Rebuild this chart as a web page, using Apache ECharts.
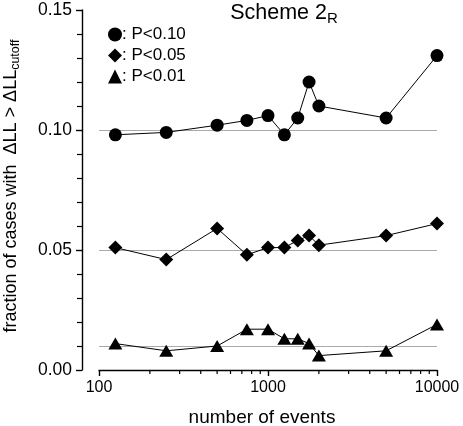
<!DOCTYPE html>
<html>
<head>
<meta charset="utf-8">
<script src="https://cdn.jsdelivr.net/npm/echarts@6/dist/echarts.min.js"></script>
<style>
html,body{margin:0;padding:0;background:#fff;}
#chart{width:463px;height:426px;}
</style>
</head>
<body>
<div id="chart"></div>
<script>
var events = [125, 250, 500, 750, 1000, 1250, 1500, 1750, 2000, 5000, 10000];
var p10 = [0.098, 0.099, 0.102, 0.104, 0.106, 0.098, 0.105, 0.120, 0.110, 0.105, 0.131];
var p05 = [0.051, 0.046, 0.059, 0.048, 0.051, 0.051, 0.054, 0.056, 0.052, 0.056, 0.061];
var p01 = [0.011, 0.008, 0.010, 0.017, 0.017, 0.013, 0.013, 0.011, 0.006, 0.008, 0.019];
var refLevels = [0.10, 0.05, 0.01];
var seriesNames = ['P<0.10', 'P<0.05', 'P<0.01'];
var symbols = ['circle', 'diamond', 'triangle'];
var xMinorTicks = [200, 300, 400, 500, 600, 700, 800, 900, 2000, 3000, 4000, 5000, 6000, 7000, 8000, 9000];

var FONT = '"Liberation Sans", Arial, Helvetica, sans-serif';

function pairs(ys) {
  return events.map(function (x, i) { return [x, ys[i]]; });
}

var chart = echarts.init(document.getElementById('chart'), null, {renderer: 'canvas'});

var allData = [p10, p05, p01];
var symSizes = [13, 14, [14, 12]];

var series = allData.map(function (ys, i) {
  return {
    name: seriesNames[i],
    type: 'line',
    data: pairs(ys),
    symbol: symbols[i],
    symbolSize: symSizes[i],
    color: '#000',
    lineStyle: {color: '#000', width: 1},
    itemStyle: {color: '#000'},
    z: 5
  };
});

series.push({
  name: 'ref',
  type: 'line',
  data: [],
  silent: true,
  markLine: {
    silent: true,
    symbol: ['none', 'none'],
    label: {show: false},
    lineStyle: {color: '#aaaaaa', width: 1.2, type: 'solid'},
    data: refLevels.map(function (v) { return {yAxis: v}; })
  },
  z: 1
});

// minor ticks of the logarithmic x axis, placed through the axis scale
series.push({
  name: 'minorTicks',
  type: 'custom',
  silent: true,
  clip: false,
  data: xMinorTicks.map(function (v) { return [v, 0]; }),
  encode: {x: 0, y: 1},
  renderItem: function (params, api) {
    var p = api.coord([api.value(0), api.value(1)]);
    return {
      type: 'line',
      shape: {x1: p[0], y1: p[1], x2: p[0], y2: p[1] + 4},
      style: {stroke: '#000', lineWidth: 1.2}
    };
  },
  z: 6
});

var option = {
  backgroundColor: '#fff',
  animation: false,
  title: {
    text: 'Scheme 2{sub|R}',
    left: 284,
    top: 0,
    padding: 0,
    textAlign: 'center',
    textStyle: {
      fontFamily: FONT,
      fontSize: 21.5,
      fontWeight: 'normal',
      color: '#000',
      lineHeight: 26,
      rich: {
        sub: {fontFamily: FONT, fontSize: 15, color: '#000', verticalAlign: 'bottom', lineHeight: 26}
      }
    }
  },
  legend: {
    orient: 'vertical',
    left: 108,
    top: 25,
    padding: 0,
    itemWidth: 14,
    itemHeight: 14,
    itemGap: 2,
    selectedMode: false,
    formatter: ': {name}',
    textStyle: {fontFamily: FONT, fontSize: 17, color: '#000', lineHeight: 19, padding: [0, 0, 0, -5]},
    data: seriesNames.map(function (n, i) {
      return {name: n, icon: symbols[i], itemStyle: {color: '#000'}};
    })
  },
  grid: {left: 99, right: 26, top: 10, bottom: 56, containLabel: false, outerBoundsMode: 'none'},
  xAxis: {
    type: 'log',
    logBase: 10,
    min: 100,
    max: 10000,
    name: 'number of events',
    nameLocation: 'middle',
    nameGap: 38,
    nameTextStyle: {fontFamily: FONT, fontSize: 19, color: '#000', padding: [0, 12, 0, 0]},
    axisLine: {show: true, lineStyle: {color: '#000', width: 1.4}},
    axisTick: {show: true, length: 6, inside: false, lineStyle: {color: '#000', width: 1.4}},
    axisLabel: {
      show: true, margin: 10, fontFamily: FONT, fontSize: 16, color: '#000',
      formatter: function (v) { return String(Math.round(v)); }
    },
    splitLine: {show: false}
  },
  yAxis: {
    type: 'value',
    min: 0,
    max: 0.15,
    interval: 0.05,
    offset: 17,
    name: 'fraction of cases with  \u0394LL > \u0394LL{sub|cutoff}',
    nameLocation: 'middle',
    nameGap: 60,
    nameRotate: 90,
    nameTextStyle: {
      fontFamily: FONT, fontSize: 18, color: '#000', lineHeight: 22, padding: [0, 0, 0, 8],
      rich: {
        sub: {fontFamily: FONT, fontSize: 12.5, color: '#000', verticalAlign: 'bottom', lineHeight: 22}
      }
    },
    axisLine: {show: true, lineStyle: {color: '#000', width: 1.4}},
    axisTick: {show: true, length: 6, inside: false, lineStyle: {color: '#000', width: 1.4}},
    minorTick: {show: true, splitNumber: 5, length: 5, lineStyle: {color: '#000', width: 1.2}},
    axisLabel: {
      margin: 10, fontFamily: FONT, fontSize: 17.5, color: '#000',
      formatter: function (v) { return v.toFixed(2); }
    },
    splitLine: {show: false},
    minorSplitLine: {show: false}
  },
  series: series
};

chart.setOption(option);
</script>
</body>
</html>
